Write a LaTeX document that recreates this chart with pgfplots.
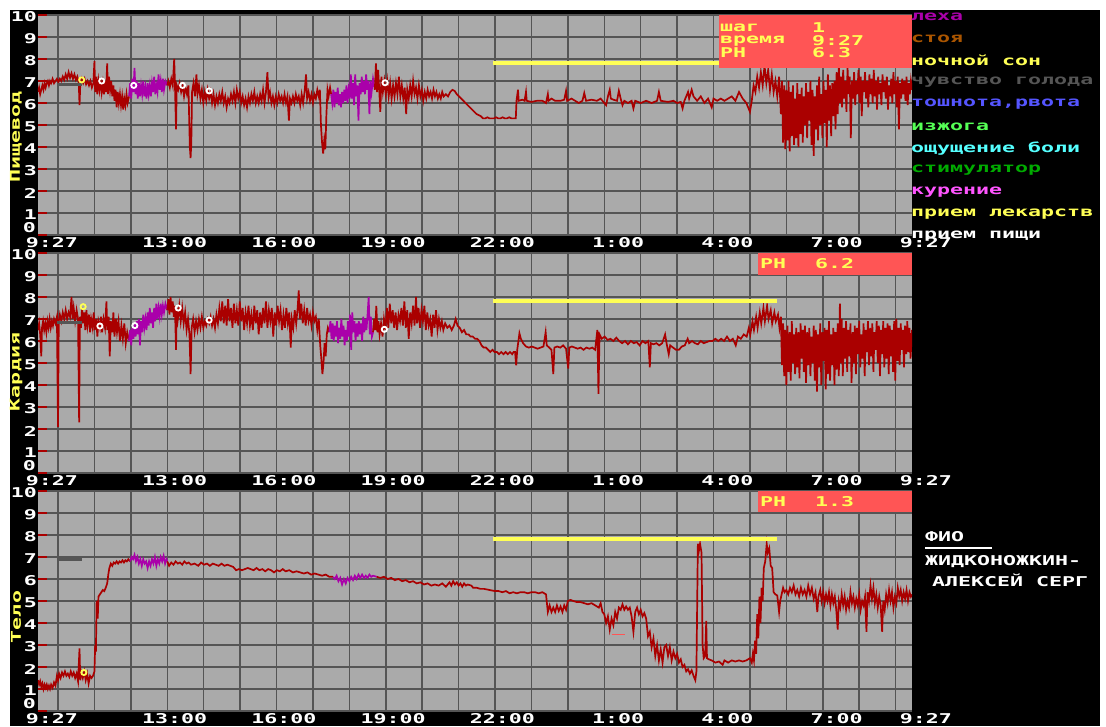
\documentclass[border=0pt]{standalone}
\usepackage{pgfplots}
\pgfplotsset{compat=1.18}
\usepackage{pgfplotstable}
\usepackage{fontspec}
\newfontfamily\pix[FakeStretch=1.6]{DejaVu Sans Mono}
\newcommand\pf{\pix\bfseries\fontsize{13.5pt}{14pt}\selectfont}
\definecolor{egared}{HTML}{AA0000}
\definecolor{egalred}{HTML}{FF5555}
\definecolor{egagray}{HTML}{AAAAAA}
\definecolor{egadgray}{HTML}{555555}
\definecolor{egayellow}{HTML}{FFFF55}
\definecolor{egamag}{HTML}{AA00AA}
\definecolor{egabrown}{HTML}{AA5500}
\definecolor{egalblue}{HTML}{5555FF}
\definecolor{egalgreen}{HTML}{55FF55}
\definecolor{egalcyan}{HTML}{55FFFF}
\definecolor{egagreen}{HTML}{00AA00}
\definecolor{egalmag}{HTML}{FF55FF}

% ---------------- Panel 1: Pishchevod ----------------
\pgfplotstableread{
x y
0.00 6.5
0.03 6.7
0.06 6.4
0.09 6.6
0.12 6.8
0.15 6.6
0.18 6.9
0.21 6.7
0.24 6.9
0.27 7.0
0.30 6.8
0.33 7.0
0.36 6.9
0.40 7.1
0.44 6.9
0.48 7.0
0.52 7.1
0.56 6.95
0.60 7.1
0.64 7.0
0.68 7.2
0.72 7.05
0.76 7.3
0.80 7.1
0.84 7.4
0.88 7.15
0.92 7.35
0.96 7.1
1.00 7.3
1.04 7.05
1.08 7.2
1.12 6.9
1.14 5.9
1.16 6.8
1.20 7.1
1.24 6.9
1.28 7.1
1.32 6.85
1.36 7.0
1.40 6.8
1.44 7.0
1.48 6.7
1.52 6.9
1.55 7.9
1.57 6.5
1.60 7.2
1.63 6.4
1.66 7.0
1.69 6.6
1.72 7.1
1.75 6.5
1.78 6.9
1.81 6.4
1.84 7.0
1.87 6.5
1.90 7.8
1.92 6.4
1.95 7.2
1.98 6.6
2.01 7.0
2.04 6.3
2.07 6.8
2.10 6.1
2.13 6.6
2.16 5.8
2.19 6.5
2.22 6.0
2.25 6.4
2.28 5.9
2.31 6.3
2.34 5.7
2.37 6.2
2.40 5.9
2.43 6.4
2.46 6.0
2.50 6.3
}\PaRa
\pgfplotstableread{
x y
2.50 6.3
2.53 6.9
2.56 6.2
2.59 7.1
2.62 6.5
2.65 7.6
2.68 6.4
2.71 7.0
2.74 6.2
2.77 6.9
2.80 6.3
2.83 6.8
2.86 6.4
2.89 7.0
2.92 6.3
2.95 6.7
2.98 6.2
3.01 6.9
3.04 6.4
3.07 6.8
3.10 6.3
3.13 6.9
3.16 6.5
3.19 7.2
3.22 6.4
3.25 6.8
3.28 6.5
3.31 7.3
3.34 6.6
3.37 7.0
3.40 6.5
3.43 7.1
3.46 6.6
3.50 7.0
3.55 6.8
}\PaPa
\pgfplotstableread{
x y
3.55 6.8
3.58 7.0
3.62 6.7
3.66 7.1
3.70 6.8
3.74 8.0
3.76 6.9
3.79 4.8
3.81 6.8
3.85 6.6
3.89 6.9
3.93 6.5
3.97 6.8
4.01 6.3
4.05 6.7
4.09 6.4
4.13 6.8
4.17 4.0
4.19 3.5
4.21 4.2
4.23 6.5
4.27 6.9
4.31 6.3
4.35 7.3
4.38 6.4
4.42 6.8
4.46 6.2
4.50 6.6
4.54 6.0
4.58 6.5
4.62 6.1
4.66 6.6
4.70 6.2
4.74 6.5
4.78 6.0
4.82 6.4
4.86 5.9
4.90 6.3
4.94 6.0
4.98 6.4
5.02 6.1
5.06 6.5
5.10 6.0
5.14 6.3
5.18 5.8
5.22 6.2
5.26 6.0
5.30 6.4
5.34 6.1
5.38 6.5
5.42 6.0
5.46 6.6
5.50 6.2
5.54 6.5
5.58 6.0
5.62 6.3
5.66 5.9
5.70 6.2
5.74 5.8
5.78 6.3
5.82 6.0
5.86 6.4
5.90 6.1
5.94 6.5
5.98 6.0
6.02 6.3
6.06 6.0
6.10 6.4
6.14 6.1
6.18 6.6
6.22 6.0
6.26 6.5
6.30 7.4
6.33 6.2
6.37 6.5
6.41 6.0
6.45 6.3
6.49 5.9
6.53 6.3
6.57 6.0
6.61 6.4
6.65 6.1
6.69 6.3
6.73 6.0
6.77 6.4
6.81 6.0
6.85 6.3
6.89 5.2
6.92 6.2
6.96 6.0
7.00 6.3
7.04 6.0
7.08 6.4
7.12 6.1
7.16 6.3
7.20 5.9
7.24 6.4
7.28 6.0
7.32 6.5
7.36 7.3
7.39 6.2
7.43 6.5
7.47 6.1
7.51 6.4
7.55 6.0
7.59 6.4
7.63 6.2
7.67 6.6
7.71 6.3
7.74 6.6
7.77 5.0
7.80 4.2
7.83 3.7
7.86 4.3
7.89 3.9
7.92 5.5
7.95 6.6
7.98 6.3
8.02 6.7
8.05 6.4
}\PaRb
\pgfplotstableread{
x y
8.05 6.4
8.08 6.0
8.11 6.6
8.14 5.8
8.17 6.5
8.20 6.0
8.23 6.7
8.26 5.9
8.29 6.4
8.32 5.8
8.35 6.5
8.38 6.0
8.41 6.6
8.44 6.1
8.47 6.8
8.50 6.0
8.53 6.6
8.56 6.2
8.59 7.3
8.62 6.2
8.65 6.9
8.68 5.9
8.71 7.3
8.74 6.3
8.77 6.8
8.80 5.2
8.83 6.9
8.86 6.4
8.89 7.2
8.92 6.5
8.95 7.0
8.98 6.4
9.01 7.3
9.04 6.6
9.07 7.0
9.10 5.5
9.13 7.0
9.16 6.5
9.20 7.1
9.25 6.6
}\PaPb
\pgfplotstableread{
x y
9.25 6.6
9.28 7.8
9.31 6.5
9.34 7.5
9.37 6.6
9.40 5.6
9.43 7.2
9.47 6.5
9.51 7.0
9.55 6.4
9.59 7.0
9.63 6.3
9.67 6.9
9.71 6.2
9.75 6.8
9.79 6.3
9.83 6.9
9.87 6.4
9.91 7.2
9.95 6.3
9.99 6.8
10.03 6.2
10.07 6.7
10.11 5.5
10.14 6.6
10.18 6.2
10.22 6.8
10.26 6.3
10.30 7.0
10.34 6.4
10.38 6.7
10.42 6.2
10.46 6.8
10.50 6.3
10.54 6.6
10.58 6.1
10.62 6.5
10.66 6.2
10.70 6.6
10.74 6.3
10.78 6.5
10.82 6.2
10.86 6.6
10.90 6.3
10.94 6.5
10.98 6.2
11.02 6.4
11.06 6.2
11.10 6.5
11.14 6.3
11.20 6.4
11.26 6.3
11.32 6.5
11.38 6.6
11.44 6.55
11.50 6.4
11.56 6.3
11.62 6.2
11.68 6.1
11.74 6.0
11.80 5.9
11.86 5.8
11.92 5.7
11.98 5.6
12.04 5.5
12.10 5.45
12.16 5.4
12.22 5.3
12.28 5.3
12.34 5.35
12.40 5.3
12.46 5.3
12.52 5.3
12.58 5.35
12.64 5.3
12.70 5.3
12.76 5.35
12.82 5.3
12.88 5.3
12.94 5.35
13.00 5.3
13.06 5.3
13.12 5.3
13.14 6.1
13.18 6.6
13.20 6.1
13.30 6.15
13.36 6.1
13.40 6.5
13.42 6.1
13.55 6.05
13.70 6.1
13.85 6.1
13.95 6.0
14.00 6.4
14.02 6.1
14.10 6.2
14.20 6.1
14.35 6.1
14.45 6.15
14.50 6.55
14.53 6.1
14.65 6.2
14.75 6.1
14.85 6.0
14.95 6.1
15.00 6.45
15.05 6.1
15.20 6.15
15.35 6.1
15.45 6.2
15.55 6.0
15.60 5.9
15.65 6.3
15.70 6.6
15.73 6.2
15.80 6.15
15.90 6.1
15.95 6.55
16.00 6.2
16.05 5.9
16.10 6.1
16.20 6.0
16.30 6.1
16.35 5.75
16.40 6.1
16.55 6.0
16.70 6.1
16.85 6.0
17.00 6.1
17.05 6.5
17.10 6.1
17.30 6.05
17.45 6.1
17.55 6.0
17.65 6.05
17.70 5.75
17.75 6.1
17.85 6.5
17.88 6.2
17.95 6.6
18.00 6.3
18.10 6.1
18.20 6.3
18.30 6.0
18.40 6.2
18.50 5.8
18.55 6.2
18.65 6.1
18.75 6.2
18.85 6.1
18.95 6.2
19.05 6.3
19.15 6.1
19.25 6.5
19.35 6.2
19.45 6.0
19.55 5.6
19.60 6.1
19.65 6.8
19.70 6.5
19.75 7.2
19.80 6.7
19.85 7.4
19.90 6.8
19.95 7.7
20.00 6.9
20.05 7.5
20.10 6.6
20.15 7.3
20.20 6.5
20.25 7.0
20.30 6.3
20.35 7.2
20.40 5.5
20.43 7.0
20.46 4.2
20.49 6.8
20.52 3.9
20.55 6.6
20.58 4.3
20.61 7.0
20.64 3.8
20.67 6.5
20.70 4.5
20.73 6.8
20.76 4.1
20.79 6.2
20.82 4.4
20.85 6.9
20.88 4.0
20.91 6.4
20.94 4.6
20.97 6.7
21.00 4.2
21.03 6.3
21.06 5.0
21.09 6.9
21.12 4.4
21.15 6.5
21.18 5.2
21.21 7.0
21.24 4.1
21.27 6.6
21.30 3.6
21.33 6.3
21.36 4.8
21.39 6.8
21.42 4.3
21.45 7.2
21.48 5.0
21.51 6.4
21.54 4.4
21.57 7.0
21.60 5.1
21.63 6.6
21.66 4.0
21.69 7.3
21.72 5.2
21.75 6.8
21.78 4.5
21.81 6.9
21.84 5.4
21.87 7.0
21.90 4.8
21.93 7.4
21.96 5.5
21.99 7.8
22.02 6.0
22.05 7.2
22.08 5.8
22.11 7.5
22.14 6.2
22.17 7.0
22.20 5.6
22.23 7.6
22.26 6.4
22.29 7.2
22.32 4.4
22.35 7.0
22.38 6.2
22.41 7.4
22.44 5.9
22.47 7.0
22.50 6.4
22.53 7.5
22.56 6.0
22.59 7.2
22.62 5.4
22.65 7.0
22.68 6.5
22.71 7.4
22.74 6.2
22.77 7.0
22.80 5.8
22.83 7.3
22.86 6.4
22.89 7.1
22.92 6.0
22.95 7.5
22.98 6.3
23.01 7.0
23.04 5.7
23.07 7.2
23.10 6.4
23.13 6.9
23.16 5.9
23.19 7.3
23.22 6.5
23.25 7.0
23.28 6.2
23.31 7.2
23.34 5.7
23.37 6.8
23.40 6.3
23.43 7.1
23.46 6.0
23.49 7.4
23.52 6.4
23.55 7.0
23.58 5.8
23.61 7.2
23.64 4.8
23.67 6.9
23.70 6.2
23.73 7.1
23.76 6.4
23.79 7.0
23.82 6.1
23.85 7.2
23.88 5.9
23.91 6.9
23.94 6.4
23.97 7.0
24.00 6.6
}\PaRc

% ---------------- Panel 2: Kardiya ----------------
\pgfplotstableread{
x y
0.00 6.5
0.03 6.8
0.06 6.3
0.09 5.3
0.11 6.6
0.14 6.9
0.17 6.5
0.20 6.8
0.23 6.4
0.26 6.9
0.29 6.6
0.32 7.0
0.35 6.6
0.38 6.9
0.41 6.7
0.44 7.0
0.48 6.8
0.52 7.1
0.55 2.1
0.57 6.9
0.60 7.2
0.64 6.9
0.68 7.3
0.72 7.0
0.76 7.4
0.80 7.0
0.84 7.3
0.88 7.1
0.92 8.0
0.95 7.0
0.98 7.5
1.02 6.9
1.06 7.4
1.10 7.0
1.13 2.3
1.15 7.1
1.18 6.6
1.21 7.5
1.24 6.8
1.27 7.3
1.30 6.5
1.33 7.4
1.36 6.7
1.40 7.2
1.43 6.4
1.46 7.0
1.50 6.6
1.53 7.3
1.56 6.5
1.60 7.0
1.63 6.2
1.66 6.9
1.70 6.6
1.73 7.1
1.76 6.4
1.80 7.0
1.84 6.6
1.88 7.8
1.90 6.5
1.94 7.1
1.97 5.3
2.00 6.9
2.04 6.4
2.07 7.3
2.10 6.2
2.14 7.0
2.17 6.4
2.21 6.9
2.25 6.0
2.29 6.7
2.33 6.1
2.37 6.8
2.41 5.9
2.45 6.4
2.50 6.0
}\PbRa
\pgfplotstableread{
x y
2.50 6.0
2.53 6.5
2.56 5.8
2.59 6.6
2.62 6.1
2.65 6.8
2.68 6.2
2.71 6.9
2.74 6.3
2.77 7.0
2.80 5.8
2.83 6.9
2.86 6.4
2.89 7.2
2.92 6.6
2.95 7.0
2.98 6.5
3.01 7.3
3.04 6.7
3.07 7.5
3.10 6.8
3.13 7.3
3.16 6.6
3.19 7.5
3.22 6.9
3.25 7.7
3.28 7.0
3.31 7.5
3.34 7.1
3.37 7.7
3.40 7.2
3.43 7.6
3.46 7.3
3.50 7.7
3.55 7.4
}\PbPa
\pgfplotstableread{
x y
3.55 7.4
3.58 7.9
3.61 7.2
3.64 8.0
3.67 7.3
3.70 7.8
3.73 7.1
3.76 7.6
3.79 5.6
3.81 7.5
3.84 7.0
3.88 7.6
3.92 6.9
3.96 7.5
4.00 6.8
4.04 7.3
4.08 6.5
4.12 7.0
4.16 6.3
4.19 4.5
4.22 6.6
4.26 7.0
4.30 6.4
4.34 6.9
4.38 6.5
4.42 7.0
4.46 6.6
4.50 7.1
4.54 6.6
4.58 6.9
4.62 6.7
4.66 7.0
4.70 6.8
4.74 7.1
4.78 6.7
4.82 7.0
4.86 6.6
4.90 7.2
4.94 6.8
4.98 7.5
5.02 6.9
5.06 7.8
5.10 6.8
5.14 7.6
5.18 6.7
5.22 7.9
5.26 6.9
5.30 7.5
5.34 6.6
5.38 7.7
5.42 6.8
5.46 7.4
5.50 6.7
5.54 7.8
5.58 6.9
5.62 7.5
5.66 6.5
5.70 7.3
5.74 6.8
5.78 7.6
5.82 6.7
5.86 7.2
5.90 6.5
5.94 7.6
5.98 6.8
6.02 7.4
6.06 6.3
6.10 7.3
6.14 6.6
6.18 7.5
6.22 6.8
6.26 7.8
6.30 6.6
6.34 7.4
6.38 6.9
6.42 7.5
6.46 6.2
6.50 7.3
6.54 6.7
6.58 7.6
6.62 6.9
6.66 7.4
6.70 6.5
6.74 7.2
6.78 6.6
6.82 7.5
6.86 6.8
6.90 7.3
6.94 5.7
6.97 7.0
7.01 6.6
7.05 7.4
7.09 6.8
7.13 7.5
7.16 8.3
7.19 7.0
7.23 7.7
7.27 6.8
7.31 7.4
7.35 6.7
7.39 7.5
7.43 6.9
7.47 7.2
7.51 6.7
7.55 7.3
7.59 6.9
7.63 7.1
7.67 6.5
7.71 7.0
7.75 5.8
7.78 5.2
7.81 4.5
7.84 5.0
7.87 5.9
7.90 5.3
7.93 6.3
7.96 6.6
8.00 6.4
}\PbRb
\pgfplotstableread{
x y
8.00 6.4
8.03 6.9
8.06 6.1
8.09 6.8
8.12 6.0
8.15 6.7
8.18 6.2
8.21 6.9
8.24 5.9
8.27 6.6
8.30 6.1
8.33 7.0
8.36 6.2
8.39 6.7
8.42 5.8
8.45 6.5
8.48 6.0
8.51 6.9
8.54 6.2
8.57 7.2
8.60 5.6
8.63 7.3
8.66 6.4
8.69 6.9
8.72 6.0
8.75 6.8
8.78 6.2
8.81 6.9
8.84 6.3
8.87 6.8
8.90 6.0
8.93 7.1
8.96 6.4
8.99 7.0
9.02 6.5
9.05 7.2
9.08 8.0
9.11 6.3
9.14 7.1
9.17 6.2
9.20 6.4
}\PbPb
\pgfplotstableread{
x y
9.20 6.4
9.23 7.0
9.26 6.5
9.29 7.6
9.32 6.4
9.35 6.9
9.38 6.3
9.42 6.8
9.46 6.2
9.50 7.0
9.54 6.5
9.58 7.5
9.62 6.6
9.66 7.7
9.70 6.8
9.74 7.4
9.78 6.6
9.82 7.3
9.86 6.5
9.90 7.2
9.94 6.9
9.98 7.5
10.02 6.7
10.06 7.8
10.10 6.6
10.14 7.4
10.18 6.1
10.22 7.3
10.26 6.8
10.30 7.6
10.34 6.7
10.38 8.0
10.41 6.8
10.45 7.5
10.49 6.6
10.53 7.4
10.57 6.9
10.61 7.6
10.65 6.5
10.69 7.3
10.73 6.7
10.77 7.0
10.81 6.2
10.85 7.2
10.89 6.6
10.93 7.4
10.97 6.5
11.01 7.0
11.05 6.6
11.09 6.9
11.13 6.5
11.18 6.8
11.24 6.6
11.30 6.7
11.36 6.5
11.42 6.7
11.47 7.0
11.52 6.7
11.58 6.6
11.64 6.4
11.70 6.5
11.76 6.3
11.82 6.3
11.88 6.2
11.94 6.2
12.00 6.1
12.06 6.1
12.12 6.0
12.18 5.8
12.24 5.7
12.30 5.7
12.36 5.6
12.42 5.5
12.48 5.6
12.54 5.5
12.60 5.5
12.66 5.4
12.72 5.5
12.78 5.4
12.84 5.5
12.90 5.4
12.96 5.5
13.02 5.4
13.06 5.5
13.10 5.5
13.13 4.9
13.16 5.6
13.22 6.35
13.26 6.1
13.32 5.9
13.40 5.75
13.48 5.7
13.56 5.75
13.64 5.7
13.72 5.65
13.80 5.7
13.88 5.75
13.94 6.4
13.97 5.8
14.04 5.7
14.10 5.6
14.15 4.5
14.18 5.7
14.26 5.75
14.34 5.7
14.42 5.8
14.50 5.65
14.56 4.75
14.59 5.7
14.66 5.75
14.74 5.7
14.82 5.65
14.90 5.7
14.98 5.6
15.06 5.7
15.14 5.65
15.22 5.7
15.30 5.6
15.36 6.5
15.39 3.6
15.42 6.3
15.48 6.1
15.56 6.2
15.64 6.05
15.72 6.1
15.80 6.0
15.88 6.15
15.96 6.0
16.04 5.9
16.12 6.0
16.20 5.85
16.28 6.0
16.36 5.9
16.44 5.95
16.52 5.8
16.60 6.0
16.68 5.9
16.76 6.0
16.80 4.8
16.83 5.9
16.90 5.85
16.98 5.9
17.06 5.8
17.14 5.9
17.22 6.3
17.26 5.9
17.32 5.4
17.36 5.8
17.44 5.7
17.52 5.6
17.60 5.6
17.68 5.75
17.76 5.8
17.84 6.1
17.88 5.9
17.96 6.0
18.04 5.9
18.12 5.85
18.20 6.0
18.28 5.9
18.36 5.95
18.44 6.0
18.52 6.0
18.60 6.1
18.68 6.0
18.76 6.1
18.84 6.0
18.92 6.2
19.00 6.0
19.08 6.1
19.16 5.8
19.22 6.2
19.30 6.1
19.38 6.3
19.46 6.2
19.52 6.6
19.56 6.3
19.62 6.9
19.66 6.5
19.72 7.1
19.76 6.6
19.82 7.3
19.86 6.8
19.92 7.5
19.96 6.9
20.02 7.6
20.06 7.0
20.12 7.4
20.16 6.8
20.22 7.3
20.26 6.9
20.32 7.2
20.36 6.6
20.40 7.1
20.43 4.9
20.46 6.8
20.49 4.4
20.52 6.5
20.55 4.0
20.58 6.7
20.61 4.6
20.64 6.4
20.67 4.2
20.70 6.9
20.73 5.0
20.76 6.3
20.79 4.5
20.82 6.6
20.85 4.8
20.88 6.4
20.91 4.3
20.94 6.8
20.97 5.2
21.00 6.5
21.03 4.6
21.06 6.7
21.09 4.1
21.12 6.4
21.15 4.9
21.18 6.6
21.21 4.4
21.24 6.2
21.27 5.0
21.30 6.7
21.33 4.2
21.36 6.5
21.39 3.7
21.42 6.3
21.45 4.8
21.48 6.8
21.51 4.0
21.54 6.4
21.57 5.1
21.60 6.6
21.63 3.8
21.66 6.5
21.69 4.5
21.72 6.9
21.75 4.2
21.78 6.3
21.81 4.9
21.84 6.6
21.87 4.0
21.90 6.4
21.93 4.7
21.96 6.8
21.99 4.4
22.02 7.7
22.04 5.0
22.07 7.0
22.10 4.4
22.13 6.6
22.16 5.2
22.19 6.9
22.22 4.6
22.25 6.5
22.28 5.3
22.31 6.8
22.34 4.1
22.37 6.4
22.40 5.0
22.43 6.7
22.46 4.5
22.49 6.6
22.52 5.4
22.55 6.9
22.58 4.8
22.61 6.3
22.64 5.2
22.67 6.8
22.70 4.4
22.73 6.5
22.76 5.5
22.79 6.9
22.82 4.9
22.85 6.6
22.88 5.3
22.91 6.8
22.94 4.6
22.97 6.4
23.00 5.6
23.03 6.9
23.06 5.0
23.09 6.7
23.12 4.4
23.15 6.5
23.18 5.4
23.21 6.9
23.24 4.8
23.27 6.6
23.30 5.2
23.33 6.8
23.36 4.5
23.39 6.7
23.42 5.3
23.45 6.5
23.48 4.6
23.51 6.9
23.54 4.2
23.57 7.0
23.60 5.1
23.63 6.6
23.66 4.9
23.69 6.8
23.72 5.6
23.75 6.5
23.78 4.8
23.81 6.7
23.84 5.4
23.87 6.9
23.90 5.5
23.93 6.6
23.96 5.2
24.00 6.5
}\PbRc

% ---------------- Panel 3: Telo ----------------
\pgfplotstableread{
x y
0.00 1.4
0.03 1.2
0.06 1.35
0.09 1.1
0.12 1.25
0.15 1.0
0.18 1.2
0.21 1.05
0.24 1.2
0.27 1.0
0.30 1.15
0.33 1.0
0.36 1.2
0.40 1.05
0.44 1.3
0.48 1.15
0.52 1.6
0.55 1.4
0.58 1.7
0.62 1.5
0.66 1.75
0.70 1.6
0.74 1.8
0.78 1.6
0.82 1.7
0.86 1.55
0.90 1.8
0.94 1.6
0.98 1.75
1.02 1.5
1.06 1.7
1.10 1.35
1.14 2.85
1.16 1.4
1.19 1.75
1.23 1.5
1.27 1.8
1.31 1.4
1.35 1.7
1.39 1.25
1.43 1.6
1.47 1.5
1.51 1.6
1.55 1.8
1.57 3.0
1.59 2.7
1.61 5.0
1.64 4.2
1.66 5.2
1.70 5.3
1.74 5.4
1.78 5.5
1.82 5.45
1.86 5.6
1.90 5.8
1.93 6.2
1.96 6.5
2.00 6.7
2.04 6.6
2.08 6.75
2.12 6.7
2.16 6.8
2.20 6.7
2.24 6.8
2.28 6.75
2.32 6.85
2.36 6.75
2.40 6.85
2.44 6.8
2.48 6.9
2.53 6.8
}\PcRa
\pgfplotstableread{
x y
2.53 6.8
2.57 7.0
2.61 6.9
2.65 7.1
2.69 6.8
2.73 7.0
2.77 6.7
2.81 6.9
2.85 6.6
2.89 6.9
2.93 6.7
2.97 6.8
3.01 6.5
3.05 6.8
3.09 6.6
3.13 6.9
3.17 6.7
3.21 7.0
3.25 6.6
3.29 6.9
3.33 6.7
3.37 7.0
3.41 6.8
3.45 7.05
3.49 6.7
3.53 6.9
3.55 6.8
}\PcPa
\pgfplotstableread{
x y
3.55 6.8
3.60 6.6
3.66 6.75
3.72 6.65
3.78 6.8
3.84 6.7
3.90 6.75
3.96 6.65
4.02 6.8
4.08 6.7
4.14 6.75
4.20 6.65
4.30 6.7
4.40 6.6
4.48 6.75
4.56 6.65
4.64 6.7
4.72 6.6
4.80 6.7
4.88 6.65
4.96 6.6
5.04 6.7
5.12 6.6
5.20 6.65
5.28 6.6
5.36 6.55
5.44 6.4
5.52 6.45
5.60 6.4
5.68 6.45
5.76 6.5
5.84 6.45
5.92 6.4
6.00 6.5
6.08 6.4
6.16 6.45
6.24 6.35
6.32 6.45
6.40 6.4
6.48 6.3
6.56 6.4
6.64 6.35
6.72 6.45
6.80 6.35
6.90 6.4
7.00 6.3
7.10 6.35
7.20 6.3
7.30 6.25
7.40 6.3
7.50 6.2
7.60 6.25
7.70 6.2
7.80 6.15
7.90 6.2
8.00 6.1
8.10 6.1
}\PcRb
\pgfplotstableread{
x y
8.10 6.1
8.15 6.0
8.20 6.15
8.25 5.9
8.30 6.05
8.35 5.75
8.40 6.0
8.45 5.8
8.50 6.05
8.55 5.9
8.60 6.1
8.65 5.95
8.70 6.15
8.75 6.0
8.80 6.2
8.85 6.05
8.90 6.2
8.95 6.05
9.00 6.15
9.05 6.05
9.10 6.2
9.15 6.1
9.20 6.15
9.30 6.1
}\PcPb
\pgfplotstableread{
x y
9.30 6.1
9.40 6.05
9.50 6.1
9.60 6.0
9.70 6.05
9.80 5.95
9.90 6.0
10.00 5.9
10.10 5.95
10.20 5.85
10.30 5.9
10.40 5.8
10.50 5.85
10.60 5.75
10.70 5.8
10.80 5.7
10.90 5.75
11.00 5.7
11.10 5.8
11.20 5.65
11.30 5.85
11.35 5.7
11.40 5.9
11.45 5.75
11.50 5.85
11.55 5.7
11.60 5.8
11.65 5.65
11.70 5.8
11.75 5.7
11.80 5.75
11.90 5.7
11.95 5.6
12.05 5.6
12.15 5.55
12.25 5.55
12.40 5.5
12.55 5.45
12.65 5.45
12.75 5.4
12.85 5.45
12.95 5.35
13.05 5.4
13.15 5.35
13.25 5.4
13.35 5.4
13.45 5.35
13.55 5.4
13.65 5.4
13.75 5.35
13.85 5.4
13.95 5.3
14.00 4.5
14.05 4.8
14.10 4.5
14.15 4.7
14.20 4.5
14.25 4.8
14.30 4.55
14.35 4.75
14.40 4.5
14.45 4.8
14.50 4.6
14.55 5.0
14.62 5.05
14.70 5.0
14.80 4.95
14.90 4.95
15.00 4.9
15.10 4.85
15.20 4.9
15.30 4.8
15.40 4.7
15.45 4.9
15.50 4.5
15.55 4.4
15.60 4.0
15.65 4.3
15.70 3.7
15.75 4.2
15.80 3.9
15.85 4.5
15.90 4.2
15.95 4.7
16.00 4.6
16.05 4.85
16.10 4.6
16.15 4.75
16.20 4.6
16.25 4.7
16.30 4.3
16.35 3.6
16.40 4.5
16.45 4.7
16.50 4.4
16.55 4.6
16.60 4.3
16.65 4.45
16.70 4.2
16.75 3.4
16.80 3.6
16.85 2.9
16.90 3.3
16.95 2.5
17.00 3.0
17.05 2.3
17.10 2.8
17.15 2.2
17.20 2.9
17.25 3.0
17.30 2.5
17.35 2.9
17.40 2.3
17.45 2.7
17.50 2.4
17.55 2.6
17.60 2.2
17.65 2.35
17.70 2.0
17.75 2.1
17.80 1.8
17.85 1.9
17.90 1.7
17.95 1.85
18.00 1.6
18.05 1.4
18.08 1.8
18.12 7.6
18.15 7.3
18.18 7.6
18.22 7.2
18.25 3.0
18.28 2.4
18.32 2.5
18.35 4.1
18.37 2.4
18.42 2.35
18.50 2.3
18.60 2.2
18.70 2.25
18.80 2.1
18.85 2.3
18.95 2.2
19.05 2.3
19.15 2.25
19.25 2.3
19.35 2.25
19.45 2.3
19.55 2.4
19.60 2.2
19.63 2.6
19.66 2.3
19.69 3.2
19.72 2.6
19.75 4.4
19.78 3.3
19.81 5.2
19.84 4.0
19.87 5.6
19.90 5.0
19.93 6.5
19.97 6.8
20.01 7.6
20.04 7.2
20.08 7.4
20.12 6.6
20.16 6.5
20.20 5.4
20.25 5.3
20.30 5.25
20.35 4.5
20.38 5.0
20.42 5.3
20.46 5.6
20.50 5.4
20.55 5.5
20.60 5.3
20.65 5.6
20.70 5.4
20.75 5.7
20.80 5.3
20.85 5.5
20.90 5.2
20.95 5.6
21.00 5.3
21.05 5.5
21.10 5.2
21.15 5.7
21.20 5.3
21.25 5.6
21.30 5.1
21.35 5.4
21.40 4.5
21.43 5.2
21.48 5.5
21.52 5.0
21.56 5.4
21.60 4.9
21.64 5.3
21.68 5.0
21.72 5.4
21.76 4.8
21.80 5.3
21.84 4.9
21.88 5.2
21.92 4.6
21.96 3.7
21.99 5.0
22.03 4.7
22.07 5.3
22.11 4.8
22.15 5.2
22.19 4.6
22.23 5.0
22.27 4.7
22.31 5.4
22.35 4.9
22.39 5.2
22.43 4.7
22.47 5.1
22.51 4.8
22.55 5.3
22.59 4.6
22.63 5.0
22.67 4.8
22.71 5.2
22.75 3.6
22.78 5.4
22.82 5.0
22.86 5.7
22.90 5.1
22.94 5.6
22.98 4.9
23.02 5.3
23.06 4.7
23.10 5.2
23.14 4.8
23.18 3.6
23.21 5.0
23.25 4.6
23.29 5.3
23.33 4.9
23.37 5.5
23.41 5.0
23.45 5.4
23.49 4.7
23.53 5.2
23.57 4.9
23.61 5.6
23.65 5.2
23.69 5.5
23.73 5.0
23.77 5.4
23.81 5.1
23.85 5.5
23.89 5.0
23.93 5.4
23.97 5.2
24.00 5.3
}\PcRc

\pgfplotsset{
  panel/.style={
    scale only axis, width=874pt, height=220pt, anchor=south west,
    xmin=0, xmax=24, ymin=0, ymax=10,
    axis background/.style={fill=egagray},
    axis line style={draw=none},
    xtick={0.55,1.55,2.55,3.55,4.55,5.55,6.55,7.55,8.55,9.55,10.55,11.55,12.55,13.55,14.55,15.55,16.55,17.55,18.55,19.55,20.55,21.55,22.55,23.55},
    xticklabels={}, xtick style={draw=none},
    ytick={0,1,2,3,4,5,6,7,8,9,10},
    yticklabels={,1,2,3,4,5,6,7,8,9,10},
    ytick pos=left, tick align=inside, major tick length=9pt,
    ytick style={draw=egared, line width=1.6pt},
    grid=major, major grid style={draw=egadgray, line width=1.5pt},
    yticklabel style={font=\pf, text=white, inner sep=1pt, yshift=-2pt},
    every axis plot/.append style={line width=1.7pt, mark=none},
  },
  redl/.style={egared, line width=1.7pt},
  purl/.style={egamag, line width=1.7pt},
  food/.style={only marks, mark=o, mark size=2.6pt, draw=white, line width=1.8pt},
  medi/.style={only marks, mark=o, mark size=2.6pt, draw=egayellow, line width=1.8pt},
}

\begin{document}
\begin{tikzpicture}
\useasboundingbox (0,0) rectangle (1106pt,726pt);
\fill[white] (0,0) rectangle (1106pt,726pt);
\fill[black] (10pt,0) rectangle (1100pt,716pt);

% ===== Panel 1 =====
\begin{axis}[panel, at={(38pt,491pt)}]
\addplot[redl] table[x=x,y=y] {\PaRa};
\addplot[purl] table[x=x,y=y] {\PaPa};
\addplot[redl] table[x=x,y=y] {\PaRb};
\addplot[purl] table[x=x,y=y] {\PaPb};
\addplot[redl] table[x=x,y=y] {\PaRc};
\addplot[egadgray, line width=3.5pt] coordinates {(0.52,6.85) (1.2,6.85)};
\addplot[egayellow, line width=4pt] coordinates {(12.5,7.8) (20.29,7.8)};
\addplot[medi] coordinates {(1.2,7.05)};
\addplot[food] coordinates {(1.75,7.0) (2.63,6.8) (3.97,6.8) (4.7,6.55) (9.53,6.92)};
\end{axis}

% ===== Panel 2 =====
\begin{axis}[panel, at={(38pt,253pt)}]
\addplot[redl] table[x=x,y=y] {\PbRa};
\addplot[purl] table[x=x,y=y] {\PbPa};
\addplot[redl] table[x=x,y=y] {\PbRb};
\addplot[purl] table[x=x,y=y] {\PbPb};
\addplot[redl] table[x=x,y=y] {\PbRc};
\addplot[egadgray, line width=3.5pt] coordinates {(0.52,6.85) (1.2,6.85)};
\addplot[egayellow, line width=4pt] coordinates {(12.5,7.8) (20.29,7.8)};
\addplot[medi] coordinates {(1.24,7.56)};
\addplot[food] coordinates {(1.7,6.68) (2.66,6.7) (3.85,7.5) (4.7,6.95) (9.51,6.53)};
\end{axis}

% ===== Panel 3 =====
\begin{axis}[panel, at={(38pt,15pt)}]
\addplot[redl] table[x=x,y=y] {\PcRa};
\addplot[purl] table[x=x,y=y] {\PcPa};
\addplot[redl] table[x=x,y=y] {\PcRb};
\addplot[purl] table[x=x,y=y] {\PcPb};
\addplot[redl] table[x=x,y=y] {\PcRc};
\addplot[egalred, line width=1pt] coordinates {(15.75,3.47) (16.12,3.47)};
\addplot[egadgray, line width=3.5pt] coordinates {(0.52,6.88) (1.2,6.88)};
\addplot[egayellow, line width=4pt] coordinates {(12.5,7.8) (20.29,7.8)};
\addplot[medi] coordinates {(1.26,1.75)};
\end{axis}

% "0" tick labels
\foreach \yb in {498,260,22}{
  \node[anchor=east, inner sep=0, text=white, font=\pf] at (36pt,\yb pt) {0};
}

% time labels
\foreach \yb in {483,245,7}{
  \foreach \xe/\lab in {78/9:27,207.3/13:00,316.5/16:00,425.8/19:00,535/22:00,644.3/1:00,753.5/4:00,862.8/7:00,952/9:27}{
    \node[anchor=east, inner sep=0, text=white, font=\pf] at (\xe pt,\yb pt) {\lab};
  }
}

% axis names
\node[rotate=90, text=egayellow, font=\pf, inner sep=0] at (16pt,589pt) {Пищевод};
\node[rotate=90, text=egayellow, font=\pf, inner sep=0] at (16pt,354pt) {Кардия};
\node[rotate=90, text=egayellow, font=\pf, inner sep=0] at (16pt,109pt) {Тело};

% info boxes
\fill[egalred] (719pt,658pt) rectangle (912pt,711pt);
\node[anchor=west, inner sep=0, text=egayellow, font=\pf] at (720pt,698pt) {шаг};
\node[anchor=west, inner sep=0, text=egayellow, font=\pf] at (812pt,698pt) {1};
\node[anchor=west, inner sep=0, text=egayellow, font=\pf] at (720pt,685pt) {время};
\node[anchor=west, inner sep=0, text=egayellow, font=\pf] at (812pt,685pt) {9:27};
\node[anchor=west, inner sep=0, text=egayellow, font=\pf] at (720pt,673pt) {РН};
\node[anchor=west, inner sep=0, text=egayellow, font=\pf] at (812pt,673pt) {6.3};

\fill[egalred] (758pt,451pt) rectangle (912pt,473pt);
\node[anchor=west, inner sep=0, text=egayellow, font=\pf] at (760pt,462pt) {РН};
\node[anchor=west, inner sep=0, text=egayellow, font=\pf] at (815pt,462pt) {6.2};

\fill[egalred] (758pt,214pt) rectangle (912pt,235pt);
\node[anchor=west, inner sep=0, text=egayellow, font=\pf] at (760pt,224pt) {РН};
\node[anchor=west, inner sep=0, text=egayellow, font=\pf] at (815pt,224pt) {1.3};

% legend
\node[anchor=west, inner sep=0, text=egamag, font=\pf] at (911pt,709.5pt) {леха};
\node[anchor=west, inner sep=0, text=egabrown, font=\pf] at (911pt,687.5pt) {стоя};
\node[anchor=west, inner sep=0, text=egayellow, font=\pf] at (911pt,665.5pt) {ночной сон};
\node[anchor=west, inner sep=0, text=egadgray, font=\pf] at (911pt,643.5pt) {чувство голода};
\node[anchor=west, inner sep=0, text=egalblue, font=\pf] at (911pt,621.5pt) {тошнота,рвота};
\node[anchor=west, inner sep=0, text=egalgreen, font=\pf] at (911pt,599.5pt) {изжога};
\node[anchor=west, inner sep=0, text=egalcyan, font=\pf] at (911pt,577.5pt) {ощущение боли};
\node[anchor=west, inner sep=0, text=egagreen, font=\pf] at (911pt,555.5pt) {стимулятор};
\node[anchor=west, inner sep=0, text=egalmag, font=\pf] at (911pt,533.5pt) {курение};
\node[anchor=west, inner sep=0, text=egayellow, font=\pf] at (911pt,511.5pt) {прием лекарств};
\node[anchor=west, inner sep=0, text=white, font=\pf] at (911pt,489.5pt) {прием пищи};

% FIO
\node[anchor=west, inner sep=0, text=white, font=\pf] at (925pt,189pt) {ФИО};
\draw[white, line width=1.5pt] (925pt,178pt) -- (992pt,178pt);
\node[anchor=west, inner sep=0, text=white, font=\pf] at (925pt,164pt) {ЖИДКОНОЖКИН-};
\node[anchor=west, inner sep=0, text=white, font=\pf] at (932pt,146pt) {АЛЕКСЕЙ СЕРГ};
\end{tikzpicture}
\end{document}
